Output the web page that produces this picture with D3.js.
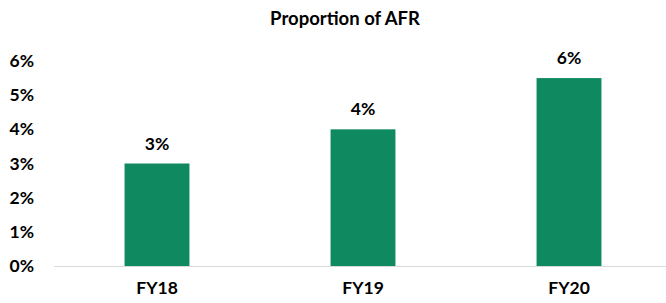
<!DOCTYPE html>
<html>
<head>
<meta charset="utf-8">
<script src="https://cdn.jsdelivr.net/npm/d3@7"></script>
<style>
  body { margin: 0; background: #fff; }
  text { font-family: Lato, "Open Sans", sans-serif; font-weight: bold; fill: #000; }
</style>
</head>
<body>
<script>
// chart data
var categories = ["FY18", "FY19", "FY20"]
var values = [0.03, 0.04, 0.055]
var valueLabels = ["3%", "4%", "6%"]
var yTicks = [0, 0.01, 0.02, 0.03, 0.04, 0.05, 0.06]

var outerWidth = 666,
  outerHeight = 303,
  plot = {left: 54, right: 672, top: 61, bottom: 266};

var svg = d3.select("body").append("svg")
    .attr("width", outerWidth)
    .attr("height", outerHeight);

var xScale = d3.scaleBand()
    .domain(categories)
    .range([plot.left, plot.right])
    .paddingInner(0.685)
    .paddingOuter(0.3425);

var yScale = d3.scaleLinear()
    .domain([0, 0.06])
    .range([plot.bottom, plot.top]);

// title
svg.append("text")
    .attr("x", 345)
    .attr("y", 19)
    .attr("dy", "0.35em")
    .attr("text-anchor", "middle")
    .style("font-size", "18.5px")
    .text("Proportion of AFR");

// y axis labels, no line
var yAxis = d3.axisLeft(yScale)
    .tickValues(yTicks)
    .tickFormat(d3.format(".0%"))
    .tickSize(0)
    .tickPadding(0);

var gy = svg.append("g")
    .attr("transform", "translate(34,0)")
    .call(yAxis);
gy.select(".domain").remove();
gy.selectAll("text")
    .style("font-size", "17.5px")
    .style("font-family", null);

// bars
svg.selectAll("rect.bar")
    .data(values)
    .enter()
    .append("rect")
    .attr("class", "bar")
    .attr("x", function(d, i) { return xScale(categories[i]); })
    .attr("y", function(d) { return yScale(d); })
    .attr("width", xScale.bandwidth())
    .attr("height", function(d) { return yScale(0) - yScale(d); })
    .style("fill", "#0f8a60");

// baseline
svg.append("line")
    .attr("x1", plot.left)
    .attr("x2", outerWidth)
    .attr("y1", yScale(0) + 0.5)
    .attr("y2", yScale(0) + 0.5)
    .style("stroke", "#d9d9d9")
    .style("stroke-width", 1);

// value labels
svg.selectAll("text.val")
    .data(values)
    .enter()
    .append("text")
    .attr("class", "val")
    .attr("x", function(d, i) { return xScale(categories[i]) + xScale.bandwidth() / 2; })
    .attr("y", function(d) { return yScale(d) - 20; })
    .attr("dy", "0.35em")
    .attr("text-anchor", "middle")
    .style("font-size", "17.5px")
    .text(function(d, i) { return valueLabels[i]; });

// x axis labels
var xAxis = d3.axisBottom(xScale).tickSize(0).tickPadding(0);
var gx = svg.append("g")
    .attr("transform", "translate(0,288)")
    .call(xAxis);
gx.select(".domain").remove();
gx.selectAll("text")
    .attr("y", 0)
    .attr("dy", "0.35em")
    .style("font-size", "17.5px")
    .style("font-family", null);
</script>
</body>
</html>
